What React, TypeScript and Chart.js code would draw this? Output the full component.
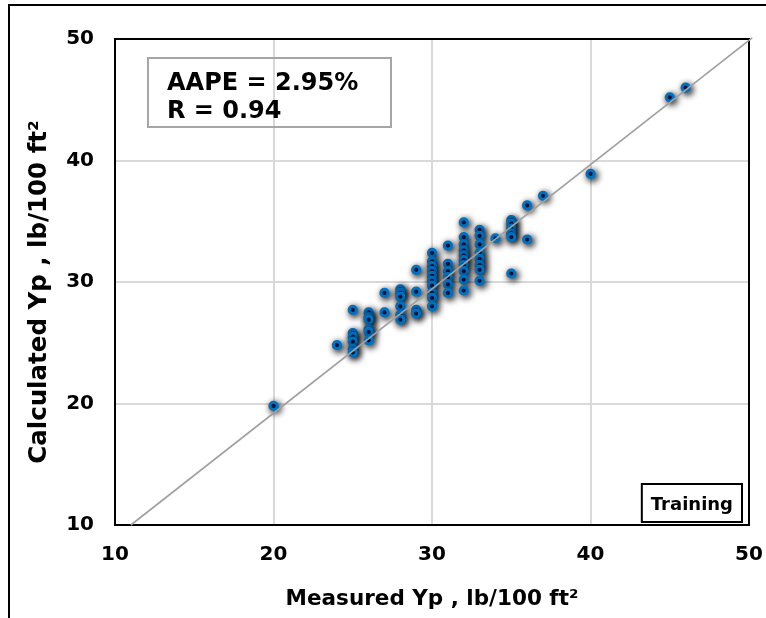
import React, { useEffect, useRef } from "react";
import { Chart, registerables } from "chart.js";

Chart.register(...registerables);

// Measured Yp (lb/100 ft²)
const measuredYp: number[] = [
  20,
  24,
  25, 25, 25, 25, 25, 25,
  26, 26, 26, 26, 26, 26,
  27, 27,
  28, 28, 28, 28, 28, 28,
  29, 29, 29, 29,
  30, 30, 30, 30, 30, 30, 30, 30, 30, 30,
  31, 31, 31, 31, 31, 31,
  32, 32, 32, 32, 32, 32, 32, 32, 32, 32,
  33, 33, 33, 33, 33, 33, 33, 33,
  34,
  35, 35, 35, 35, 35, 35,
  36, 36,
  37,
  40,
  45,
  46,
];

// Calculated Yp (lb/100 ft²)
const calculatedYp: number[] = [
  19.8,
  24.8,
  27.7, 25.8, 25.5, 25.1, 24.5, 24.2,
  27.5, 27.1, 26.9, 26.1, 25.9, 25.2,
  29.1, 27.5,
  29.4, 29.1, 28.8, 28.0, 27.3, 26.9,
  31.0, 29.2, 27.7, 27.4,
  32.4, 31.7, 31.3, 30.9, 30.5, 30.1, 29.7, 29.1, 28.7, 28.0,
  33.0, 31.5, 30.9, 30.4, 29.8, 29.1,
  34.9, 33.7, 33.1, 32.6, 32.2, 31.8, 31.4, 30.9, 30.2, 29.3,
  34.3, 33.8, 33.1, 32.4, 31.9, 31.4, 31.0, 30.1,
  33.6,
  35.1, 34.8, 34.4, 34.0, 33.7, 30.7,
  36.3, 33.5,
  37.1,
  38.9,
  45.2,
  46.0,
];

// Trend line end points
const trendX: number[] = [11, 50.2];
const trendY: number[] = [10, 50.1];

const axisMin = 10;
const axisMax = 50;
const axisStep = 10;

const statLines: string[] = ["AAPE = 2.95%", "R = 0.94"];
const setLabel = "Training";
const xTitle = "Measured Yp , lb/100 ft²";
const yTitle = "Calculated Yp , lb/100 ft²";

const FONT = "'DejaVu Sans', Verdana, sans-serif";

const decorPlugin = {
  id: "decor",
  beforeDraw(chart: any) {
    const { ctx, width, height } = chart;
    ctx.save();
    ctx.fillStyle = "#ffffff";
    ctx.fillRect(0, 0, width, height);
    ctx.strokeStyle = "#000000";
    ctx.lineWidth = 2;
    ctx.beginPath();
    ctx.moveTo(9, height + 2);
    ctx.lineTo(9, 5);
    ctx.lineTo(width + 2, 5);
    ctx.stroke();
    ctx.restore();
  },
  beforeDatasetsDraw(chart: any) {
    const { ctx, chartArea: a } = chart;
    ctx.save();
    ctx.strokeStyle = "#000000";
    ctx.lineWidth = 2;
    ctx.strokeRect(a.left, a.top, a.right - a.left, a.bottom - a.top);
    ctx.restore();
  },
  beforeDatasetDraw(chart: any, args: any) {
    if (chart.data.datasets[args.index].label === "points") {
      const ctx = chart.ctx;
      ctx.save();
      ctx.shadowColor = "rgba(0,0,0,0.95)";
      ctx.shadowBlur = 7;
      ctx.shadowOffsetX = 2;
      ctx.shadowOffsetY = 2;
    }
  },
  afterDatasetDraw(chart: any, args: any) {
    if (chart.data.datasets[args.index].label === "points") {
      chart.ctx.restore();
    }
  },
  afterDraw(chart: any) {
    const { ctx, chartArea: a } = chart;
    ctx.save();
    // y axis title (rotated)
    ctx.fillStyle = "#000000";
    ctx.font = `bold 24.5px ${FONT}`;
    ctx.textAlign = "center";
    ctx.textBaseline = "middle";
    ctx.save();
    ctx.translate(40, (a.top + a.bottom) / 2 + 10);
    ctx.rotate(-Math.PI / 2);
    ctx.fillText(yTitle, 0, 0);
    ctx.restore();
    // stats box
    ctx.strokeStyle = "#a6a6a6";
    ctx.lineWidth = 2;
    ctx.strokeRect(a.left + 33, a.top + 19, 243, 69);
    ctx.fillStyle = "#000000";
    ctx.font = `bold 24px ${FONT}`;
    ctx.textBaseline = "alphabetic";
    ctx.textAlign = "left";
    ctx.fillText(statLines[0], a.left + 52, a.top + 51);
    ctx.fillText(statLines[1], a.left + 52, a.top + 79);
    // training label box
    ctx.font = `bold 18px ${FONT}`;
    const tw = ctx.measureText(setLabel).width;
    const bx = a.right - 7 - tw - 18;
    ctx.fillStyle = "#ffffff";
    ctx.fillRect(bx, a.bottom - 41, tw + 18, 38);
    ctx.strokeStyle = "#000000";
    ctx.lineWidth = 2;
    ctx.strokeRect(bx, a.bottom - 41, tw + 18, 38);
    ctx.fillStyle = "#000000";
    ctx.fillText(setLabel, bx + 9, a.bottom - 15);
    ctx.restore();
  },
};

export default function App() {
  const canvasRef = useRef<HTMLCanvasElement | null>(null);

  useEffect(() => {
    document.body.style.margin = "0";
    const canvas = canvasRef.current;
    if (!canvas) return;
    const points = measuredYp.map((x, i) => ({ x, y: calculatedYp[i] }));
    const trend = trendX.map((x, i) => ({ x, y: trendY[i] }));
    const chart = new Chart(canvas, {
      type: "scatter",
      data: {
        datasets: [
          {
            label: "trend",
            data: trend,
            showLine: true,
            pointRadius: 0,
            borderColor: "#a0a0a0",
            borderWidth: 1.6,
            clip: false as any,
          } as any,
          {
            label: "points",
            data: points,
            pointRadius: 3.6,
            pointBorderWidth: 3,
            pointBackgroundColor: "#002060",
            pointBorderColor: "#0070c0",
          } as any,
        ],
      },
      plugins: [decorPlugin],
      options: {
        responsive: false,
        devicePixelRatio: 1,
        animation: false,
        layout: { padding: { left: 0, top: 39, right: 17, bottom: 0 } },
        plugins: {
          legend: { display: false },
          tooltip: { enabled: false },
        },
        scales: {
          x: {
            type: "linear",
            min: axisMin,
            max: axisMax,
            afterFit: (s: any) => {
              s.height = 93;
              s.paddingLeft = 0;
              s.paddingRight = 0;
            },
            ticks: {
              stepSize: axisStep,
              color: "#000000",
              padding: 18,
              font: { family: FONT, size: 20, weight: "bold" },
            },
            grid: { color: "#d9d9d9", lineWidth: 2, drawTicks: false },
            border: { display: false },
            title: {
              display: true,
              text: xTitle,
              color: "#000000",
              font: { family: FONT, size: 21.5, weight: "bold" },
              padding: { top: 0, bottom: 6 },
            },
          },
          y: {
            type: "linear",
            min: axisMin,
            max: axisMax,
            afterFit: (s: any) => {
              s.width = 115;
              s.paddingTop = 0;
              s.paddingBottom = 0;
            },
            ticks: {
              stepSize: axisStep,
              color: "#000000",
              padding: 21,
              font: { family: FONT, size: 20, weight: "bold" },
            },
            grid: { color: "#d9d9d9", lineWidth: 2, drawTicks: false },
            border: { display: false },
            title: { display: false },
          },
        },
      } as any,
    });
    return () => chart.destroy();
  }, []);

  return (
    <div style={{ position: "absolute", left: 0, top: 0, width: 766, height: 618 }}>
      <canvas ref={canvasRef} width={766} height={618} />
    </div>
  );
}
